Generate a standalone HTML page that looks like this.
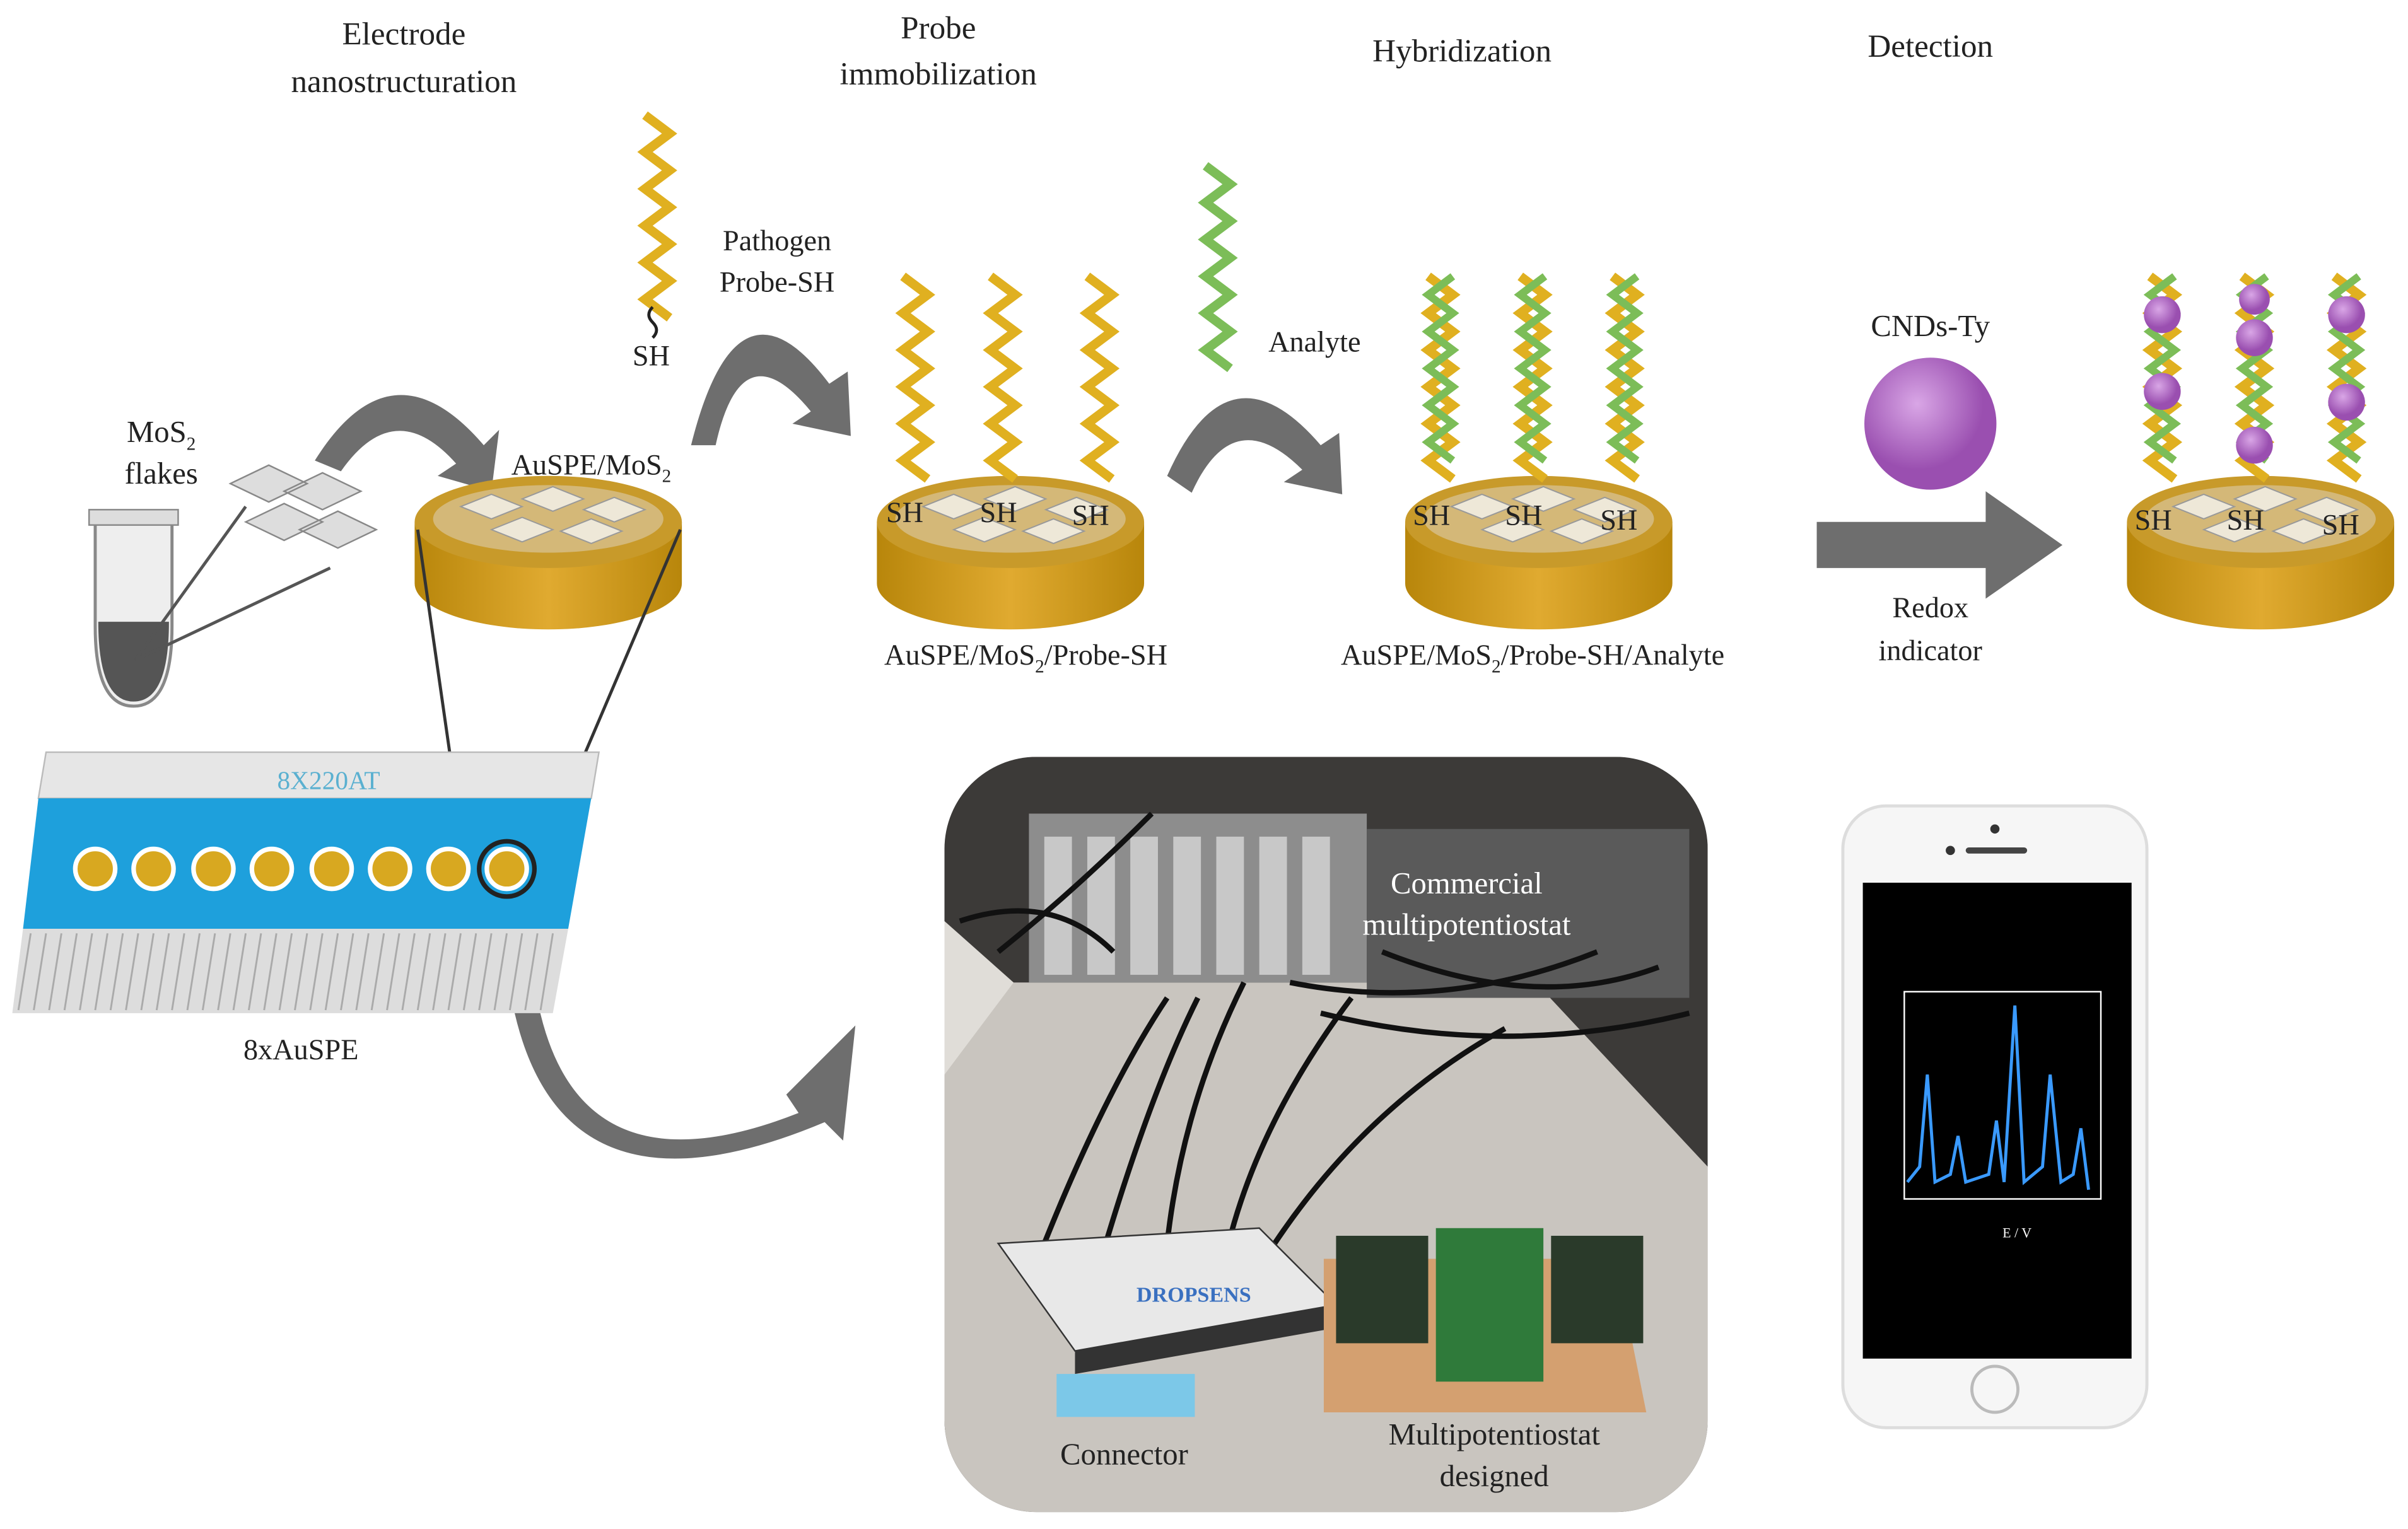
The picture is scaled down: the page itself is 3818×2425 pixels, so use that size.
<!DOCTYPE html>
<html><head><meta charset="utf-8"><style>
html,body{margin:0;padding:0;background:#fff}
svg{display:block}
text{font-family:"Liberation Serif",serif;fill:#222}
</style></head><body>
<svg width="3818" height="2425" viewBox="0 0 1568 996" preserveAspectRatio="none" xmlns="http://www.w3.org/2000/svg">
<defs>
<linearGradient id="gold" x1="0" x2="1"><stop offset="0" stop-color="#b8860b"/><stop offset=".5" stop-color="#e0aa30"/><stop offset="1" stop-color="#b8860b"/></linearGradient>
<radialGradient id="purp" cx=".4" cy=".35"><stop offset="0" stop-color="#d9a6e6"/><stop offset="1" stop-color="#9a4fb0"/></radialGradient>
<clipPath id="ph"><rect x="615" y="493" width="497" height="492" rx="60"/></clipPath>
<g id="disk">
<path d="M0,30 L0,70 A87,30 0 0 0 174,70 L174,30 Z" fill="url(#gold)"/>
<ellipse cx="87" cy="30" rx="87" ry="30" fill="#c89a2a"/>
<ellipse cx="87" cy="28" rx="75" ry="22" fill="#d8c49a" opacity=".7"/>
<path d="M30,20 l20,-8 20,8 -20,8z M70,15 l20,-8 20,8 -20,8z M110,22 l20,-8 20,8 -20,8z M50,35 l20,-8 20,8 -20,8z M95,36 l20,-8 20,8 -20,8z" fill="#eee8d8" stroke="#999" stroke-width=".8"/>
</g>
<g id="zig"><polyline points="0,0 16,12 0,24 16,36 0,48 16,60 0,72 16,84 0,96 16,108 0,120 16,132" fill="none" stroke-width="6"/></g>
</defs>

<g font-size="21" text-anchor="middle">
<text x="263" y="29">Electrode</text><text x="263" y="60">nanostructuration</text>
<text x="611" y="25">Probe</text><text x="611" y="55">immobilization</text>
<text x="952" y="40">Hybridization</text>
<text x="1257" y="37">Detection</text>
</g>

<path d="M62,338 h50 v70 q0,52 -25,52 q-25,0 -25,-52z" fill="#eee" stroke="#888" stroke-width="2"/>
<path d="M64,405 h46 q0,52 -23,52 q-23,0 -23,-52z" fill="#555"/>
<rect x="58" y="332" width="58" height="10" fill="#ddd" stroke="#888"/>
<line x1="88" y1="430" x2="160" y2="330" stroke="#555" stroke-width="2"/>
<line x1="88" y1="430" x2="215" y2="370" stroke="#555" stroke-width="2"/>
<path d="M150,315 l25,-12 25,12 -25,12z M185,320 l25,-12 25,12 -25,12z M160,340 l25,-12 25,12 -25,12z M195,345 l25,-12 25,12 -25,12z" fill="#ddd" stroke="#888"/>
<text x="105" y="288" font-size="20" text-anchor="middle">MoS<tspan font-size="12" dy="5">2</tspan></text>
<text x="105" y="315" font-size="20" text-anchor="middle">flakes</text>

<g fill="#6e6e6e">
<path d="M205,300 q50,-80 110,-10 l10,-10 -5,40 -35,-10 12,-8 q-40,-45 -75,5z"/>
<path d="M450,290 q30,-120 90,-40 l12,-8 2,42 -38,-8 12,-8 q-45,-55 -62,22z"/>
<path d="M760,310 q40,-90 100,-20 l12,-8 2,40 -38,-8 12,-8 q-45,-45 -72,15z"/>
<path d="M345,610 q10,180 175,115 l-8,-12 45,-45 -8,75 -12,-12 q-190,80 -208,-110z"/>
<path d="M1183,340 h110 v-20 l50,35 -50,35 v-20 h-110z"/>
</g>

<use href="#disk" x="270" y="310"/>
<use href="#disk" x="571" y="310"/>
<use href="#disk" x="915" y="310"/>
<use href="#disk" x="1385" y="310"/>
<text x="385" y="309" font-size="19" text-anchor="middle" fill="#777">AuSPE/MoS<tspan font-size="12" dy="5">2</tspan></text>

<line x1="272" y1="345" x2="305" y2="575" stroke="#333" stroke-width="2"/>
<line x1="443" y1="345" x2="345" y2="575" stroke="#333" stroke-width="2"/>

<use href="#zig" x="420" y="75" stroke="#e0b020"/>
<path d="M425,200 q-5,5 0,10 q5,5 0,10" stroke="#222" fill="none" stroke-width="2"/>
<text x="424" y="238" font-size="19" text-anchor="middle">SH</text>
<text x="506" y="163" font-size="19" text-anchor="middle">Pathogen</text>
<text x="506" y="190" font-size="19" text-anchor="middle">Probe-SH</text>

<g stroke="#e0b020"><use href="#zig" x="588" y="180"/><use href="#zig" x="645" y="180"/><use href="#zig" x="708" y="180"/></g>
<g font-size="19"><text x="577" y="340">SH</text><text x="638" y="340">SH</text><text x="698" y="342">SH</text></g>
<text x="668" y="433" font-size="19" text-anchor="middle" fill="#666">AuSPE/MoS<tspan font-size="12" dy="5">2</tspan><tspan dy="-5">/Probe-SH</tspan></text>

<use href="#zig" x="785" y="108" stroke="#7cbd58"/>
<text x="856" y="229" font-size="19" text-anchor="middle">Analyte</text>

<g stroke-width="5" fill="none">
<g stroke="#e0b020"><use href="#zig" x="930" y="180"/><use href="#zig" x="990" y="180"/><use href="#zig" x="1050" y="180"/></g>
<g stroke="#7cbd58"><polyline points="946,180 930,192 946,204 930,216 946,228 930,240 946,252 930,264 946,276 930,288 946,300"/><polyline points="1006,180 990,192 1006,204 990,216 1006,228 990,240 1006,252 990,264 1006,276 990,288 1006,300"/><polyline points="1066,180 1050,192 1066,204 1050,216 1066,228 1050,240 1066,252 1050,264 1066,276 1050,288 1066,300"/></g>
</g>
<g font-size="19"><text x="920" y="342">SH</text><text x="980" y="342">SH</text><text x="1042" y="345">SH</text></g>
<text x="998" y="433" font-size="19" text-anchor="middle" fill="#666">AuSPE/MoS<tspan font-size="12" dy="5">2</tspan><tspan dy="-5">/Probe-SH/Analyte</tspan></text>

<text x="1257" y="219" font-size="20" text-anchor="middle">CNDs-Ty</text>
<circle cx="1257" cy="276" r="43" fill="url(#purp)"/>
<text x="1257" y="402" font-size="19" text-anchor="middle" fill="#666">Redox</text>
<text x="1257" y="430" font-size="19" text-anchor="middle" fill="#666">indicator</text>

<g stroke-width="5" fill="none">
<g stroke="#e0b020"><use href="#zig" x="1400" y="180"/><use href="#zig" x="1460" y="180"/><use href="#zig" x="1520" y="180"/></g>
<g stroke="#7cbd58"><polyline points="1416,180 1400,192 1416,204 1400,216 1416,228 1400,240 1416,252 1400,264 1416,276 1400,288 1416,300"/><polyline points="1476,180 1460,192 1476,204 1460,216 1476,228 1460,240 1476,252 1460,264 1476,276 1460,288 1476,300"/><polyline points="1536,180 1520,192 1536,204 1520,216 1536,228 1520,240 1536,252 1520,264 1536,276 1520,288 1536,300"/></g>
</g>
<g fill="url(#purp)"><circle cx="1408" cy="205" r="12"/><circle cx="1408" cy="255" r="12"/><circle cx="1468" cy="220" r="12"/><circle cx="1468" cy="290" r="12"/><circle cx="1468" cy="195" r="10"/><circle cx="1528" cy="205" r="12"/><circle cx="1528" cy="262" r="12"/></g>
<g font-size="19"><text x="1390" y="345">SH</text><text x="1450" y="345">SH</text><text x="1512" y="348">SH</text></g>

<path d="M30,490 H390 L385,520 H25Z" fill="#e6e6e6" stroke="#bbb"/>
<text x="214" y="514" font-size="17" text-anchor="middle" font-family="Liberation Sans" style="fill:#5ab0d0">8X220AT</text>
<path d="M25,520 H385 L370,605 H15Z" fill="#1ea0dc"/>
<path d="M15,605 H370 L360,660 H8Z" fill="#ddd"/>
<g stroke="#aaa" stroke-width="1.2">
<path d="M20,608 l-8,50 M30,608 l-8,50 M40,608 l-8,50 M50,608 l-8,50 M60,608 l-8,50 M70,608 l-8,50 M80,608 l-8,50 M90,608 l-8,50 M100,608 l-8,50 M110,608 l-8,50 M120,608 l-8,50 M130,608 l-8,50 M140,608 l-8,50 M150,608 l-8,50 M160,608 l-8,50 M170,608 l-8,50 M180,608 l-8,50 M190,608 l-8,50 M200,608 l-8,50 M210,608 l-8,50 M220,608 l-8,50 M230,608 l-8,50 M240,608 l-8,50 M250,608 l-8,50 M260,608 l-8,50 M270,608 l-8,50 M280,608 l-8,50 M290,608 l-8,50 M300,608 l-8,50 M310,608 l-8,50 M320,608 l-8,50 M330,608 l-8,50 M340,608 l-8,50 M350,608 l-8,50 M360,608 l-8,50"/>
</g>
<g fill="#d8a820" stroke="#fff" stroke-width="3">
<circle cx="62" cy="566" r="13"/><circle cx="100" cy="566" r="13"/><circle cx="139" cy="566" r="13"/><circle cx="177" cy="566" r="13"/><circle cx="216" cy="566" r="13"/><circle cx="254" cy="566" r="13"/><circle cx="292" cy="566" r="13"/><circle cx="330" cy="566" r="13"/>
</g>
<circle cx="330" cy="566" r="18" fill="none" stroke="#222" stroke-width="3"/>
<text x="196" y="690" font-size="19" text-anchor="middle" fill="#555">8xAuSPE</text>

<!-- photo -->
<g clip-path="url(#ph)">
<rect x="615" y="493" width="497" height="492" fill="#3c3a38"/>
<path d="M615,640 L1000,640 L1112,760 V985 H615Z" fill="#c9c5bf"/>
<path d="M615,600 L660,640 L615,700Z" fill="#e0ddd8"/>
<rect x="670" y="530" width="220" height="110" fill="#8d8d8d"/>
<g fill="#c8c8c8"><rect x="680" y="545" width="18" height="90"/><rect x="708" y="545" width="18" height="90"/><rect x="736" y="545" width="18" height="90"/><rect x="764" y="545" width="18" height="90"/><rect x="792" y="545" width="18" height="90"/><rect x="820" y="545" width="18" height="90"/><rect x="848" y="545" width="18" height="90"/></g>
<rect x="890" y="540" width="210" height="110" fill="#5a5a5a"/>
<g stroke="#111" stroke-width="3.5" fill="none">
<path d="M680,810 q40,-100 80,-160 M720,810 q30,-100 60,-160 M760,810 q10,-90 50,-170 M800,810 q20,-80 80,-160 M830,810 q60,-90 150,-140 M650,620 q50,-40 100,-90 M900,620 q100,40 180,10 M625,600 q60,-20 100,20 M840,640 q100,20 200,-20 M860,660 q120,30 240,0"/>
</g>
<path d="M650,810 L820,800 870,850 700,880Z" fill="#e8e8e8" stroke="#333"/>
<path d="M700,880 L870,850 870,865 700,895Z" fill="#333"/>
<text x="740" y="848" font-size="14" font-family="Liberation Sans" font-weight="bold" style="fill:#3a70c0">DROPSENS</text>
<rect x="688" y="895" width="90" height="28" fill="#7cc8e8"/>
<path d="M862,820 h190 l20,100 h-210z" fill="#d4a070"/>
<rect x="870" y="805" width="60" height="70" fill="#2a3a2a"/>
<rect x="935" y="800" width="70" height="100" fill="#2f7a3a"/>
<rect x="1010" y="805" width="60" height="70" fill="#2a3a2a"/>
</g>
<g font-size="20" text-anchor="middle">
<text x="955" y="582" style="fill:#fff">Commercial</text>
<text x="955" y="609" style="fill:#fff">multipotentiostat</text>
<text x="732" y="954">Connector</text>
<text x="973" y="941">Multipotentiostat</text>
<text x="973" y="968">designed</text>
</g>

<rect x="1200" y="525" width="198" height="405" rx="28" fill="#f6f6f6" stroke="#ddd" stroke-width="2"/>
<circle cx="1299" cy="540" r="3" fill="#333"/><rect x="1280" y="552" width="40" height="4" rx="2" fill="#444"/><circle cx="1270" cy="554" r="3" fill="#333"/>
<rect x="1213" y="575" width="175" height="310" fill="#000"/>
<circle cx="1299" cy="905" r="15" fill="none" stroke="#bbb" stroke-width="2"/>
<rect x="1240" y="646" width="128" height="135" fill="none" stroke="#fff" stroke-width="1"/>
<polyline points="1242,770 1250,760 1255,700 1260,770 1270,765 1275,740 1280,770 1295,765 1300,730 1305,770 1312,655 1318,770 1330,760 1335,700 1342,770 1350,765 1355,735 1360,775" fill="none" stroke="#3a9aff" stroke-width="2"/>
<text x="1304" y="806" font-size="9" font-family="Liberation Sans" style="fill:#fff">E / V</text>
</svg>
</body></html>
